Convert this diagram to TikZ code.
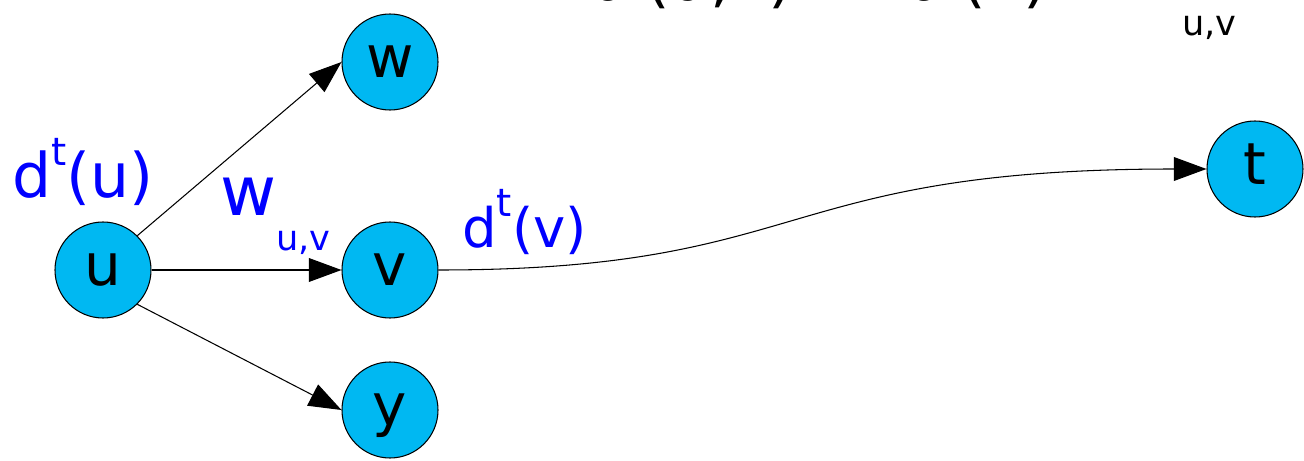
\documentclass[tikz,border=0pt]{standalone}
\usepackage{fontspec}
\setmainfont{DejaVu Sans}
\usepackage{xcolor}
\usepackage{tikz}
\usetikzlibrary{arrows.meta}
\definecolor{SPNode}{HTML}{00B8F2}
\definecolor{SPBlue}{HTML}{0000FF}
\newcommand{\supt}[1]{\raisebox{18pt}{\fontsize{22}{22}\selectfont #1}}
\newcommand{\subuv}{\raisebox{-20pt}{\fontsize{20}{20}\selectfont u,v}}
\tikzset{
  spvertex/.style={circle,draw=black,line width=.6pt,fill=SPNode,minimum size=1.92cm,inner sep=0pt,
    font=\fontsize{33}{36}\selectfont,text height=18pt,text depth=0pt},
  spedge/.style={draw=black,line width=.6pt,-{Triangle[length=18.5pt,width=13.5pt]}},
  splabel/.style={anchor=base west,inner sep=0pt,text=SPBlue,font=\fontsize{35}{40}\selectfont},
  sptop/.style={anchor=base west,inner sep=0pt,text=black,font=\fontsize{36}{40}\selectfont}
}

\begin{document}
\begin{tikzpicture}[x=1cm,y=1cm]
\path[use as bounding box] (0,0) rectangle (26.08,9.20);
\clip (0,0) rectangle (26.08,9.20);
% vertices
\node[spvertex] (u) at (2.06,3.80) {u};
\node[spvertex] (w) at (7.80,7.96) {w};
\node[spvertex] (v) at (7.80,3.80) {v};
\node[spvertex] (y) at (7.80,1.00) {y};
\node[spvertex] (t) at (25.10,5.82) {t};
% edges
\draw[spedge] (u.north east) -- (w.west);
\draw[spedge] (u.east) -- (v.west);
\draw[spedge] (u.south east) -- (y.west);
\draw[spedge] (v.east) .. controls +(7.5,0) and +(-8.7,0) .. (t.west);
% labels
\node[splabel] (du) at (0.24,5.26) {d\supt{t}(u)};
\node[splabel,font=\fontsize{39}{44}\selectfont] (wuv) at (4.40,4.90) {w\subuv};
\node[splabel,font=\fontsize{31}{36}\selectfont] (dv) at (9.24,4.24) {d\supt{t}(v)};
% relaxation formula, cut by the top edge
\node[sptop] (lhs) at (11.80,9.19) {d\supt{t}(u,v) =};
\node[sptop] (mid) at (18.12,9.19) {d\supt{t}(v) +};
\node[sptop] (wtop) at (22.60,9.19) {w\subuv};
\end{tikzpicture}
\end{document}
